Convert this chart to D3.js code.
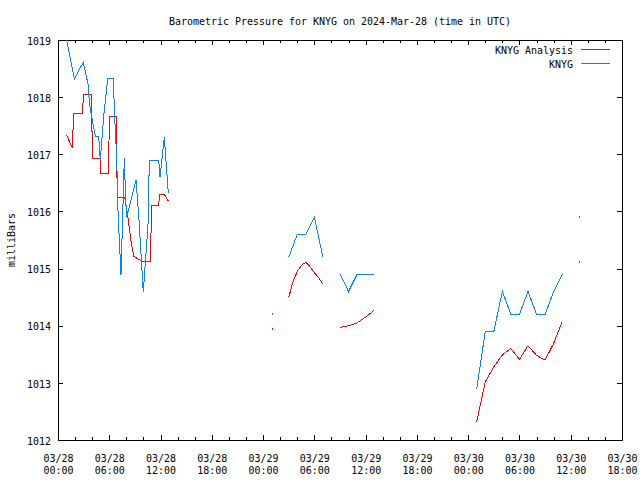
<!DOCTYPE html>
<html><head><meta charset="utf-8">
<script src="https://cdn.jsdelivr.net/npm/d3@7"></script>
<style>body{margin:0;background:#fff}svg{display:block}</style>
</head><body>
<script>
const chartTitle = "Barometric Pressure for KNYG on 2024-Mar-28 (time in UTC)";
const yAxisLabel = "milliBars";
const seriesNames = ["KNYG Analysis", "KNYG"];
const seriesColors = ["#ff0000", "#0a84f0"];
const yTicks = [1012, 1013, 1014, 1015, 1016, 1017, 1018, 1019];
const startTime = Date.UTC(2024, 2, 28, 0, 0);
const spanHours = 66;
// hours after 2024-03-28 00:00 UTC; null value = gap in the record
const knygHours = [1.0,1.91,2.96,3.51,3.69,3.86,4.37,4.76,4.95,5.35,5.82,6.47,6.63,6.87,7.02,7.37,7.76,7.92,8.04,9.13,9.48,9.98,10.57,10.68,11.78,11.94,12.44,12.91,
  19, 25, 26, 27,28,29,30,31, 32, 33,34,35,36,37, 43, 49,50,51,52,53,54,55,56,57,58,59, 60, 61];
const knygValues = [1019.0,1018.32,1018.61,1018.23,1017.88,1017.72,1017.32,1017.32,1016.9,1017.67,1018.32,1018.32,1017.65,1016.93,1016.02,1014.89,1016.93,1016.2,1015.9,1016.55,1015.85,1014.59,1015.85,1016.9,1016.9,1016.6,1017.3,1016.32,
  null, 1014.2, null, 1015.2,1015.6,1015.6,1015.9,1015.2, null, 1014.9,1014.6,1014.9,1014.9,1014.9, null,
  1012.9,1013.9,1013.9,1014.6,1014.2,1014.2,1014.6,1014.2,1014.2,1014.6,1014.9, null, 1015.9];
const analysisHours = [1.0,1.67,1.84,2.89,2.96,3.94,4.01,4.92,4.95,5.93,6.0,6.79,6.94,7.81,8.11,8.43,8.58,8.89,9.8,10.85,10.92,11.74,11.94,12.44,12.91,
  19, 25, 26, 27,27.5,28,28.5,29,29.5,30,30.5,31, 32, 33,34,35,36,37, 43, 49,50,51,52,53,54,55,56,57,58,59, 60, 61];
const analysisValues = [1017.34,1017.11,1017.72,1017.72,1018.04,1018.04,1016.93,1016.93,1016.67,1016.67,1017.67,1017.67,1016.25,1016.25,1015.97,1015.62,1015.44,1015.21,1015.13,1015.13,1016.11,1016.11,1016.3,1016.3,1016.18,
  null, 1013.95, null, 1014.5,1014.77,1014.95,1015.06,1015.11,1015.03,1014.93,1014.84,1014.73, null, 1013.97,1014.0,1014.05,1014.15,1014.27, null,
  1012.32,1013.02,1013.28,1013.49,1013.6,1013.41,1013.65,1013.48,1013.4,1013.69,1014.07, null, 1015.11];

const W = 640, H = 480;
const L = 58, R = 622, T = 40, B = 440;
const FONT = "'DejaVu Sans Mono', 'Liberation Mono', monospace";
const CW = 6; // character cell width

const hourMs = 3600000;
const toDate = h => new Date(startTime + h * hourMs);
const x = d3.scaleUtc().domain([toDate(0), toDate(spanHours)]).range([L, R]);
const y = d3.scaleLinear().domain([1012, 1019]).range([B, T]);

const svg = d3.select("body").append("svg").attr("width", W).attr("height", H)
  .style("font-family", FONT).style("font-size", "11px");

function fitText(sel) {
  sel.each(function() {
    const t = d3.select(this);
    const s = this.textContent;
    if (s.length) t.attr("textLength", s.length * CW).attr("lengthAdjust", "spacingAndGlyphs");
  });
}

// title
svg.append("text").attr("x", (L + R) / 2).attr("y", 25).attr("text-anchor", "middle")
  .attr("fill", "#000").text(chartTitle).call(fitText);

// y label
svg.append("text").attr("transform", "translate(15,240) rotate(-90)").attr("text-anchor", "middle")
  .attr("fill", "#000").text(yAxisLabel).call(fitText);

const majorX = d3.utcHour.every(6).range(toDate(0), toDate(spanHours + 0.01));
const minorX = d3.utcHour.every(2).range(toDate(0), toDate(spanHours + 0.01)).filter(d => d.getUTCHours() % 6 !== 0);

function styleAxis(g) {
  g.select(".domain").remove();
  g.selectAll("line").attr("stroke", "#000").attr("shape-rendering", "crispEdges");
}

// bottom axis
const gb = svg.append("g").attr("transform", `translate(0,${B})`)
  .call(d3.axisBottom(x).tickValues(majorX).tickSize(-5).tickSizeOuter(0).tickFormat(d3.utcFormat("%m/%d %H:%M")))
  .call(styleAxis);
gb.selectAll("text").each(function(d) {
  const t = d3.select(this);
  t.text(null).attr("y", null).attr("dy", null).attr("font-family", FONT).attr("font-size", "11px").attr("fill", "#000");
  t.append("tspan").attr("x", 0).attr("y", 21.5).text(d3.utcFormat("%m/%d")(d)).call(fitText);
  t.append("tspan").attr("x", 0).attr("y", 33.5).text(d3.utcFormat("%H:%M")(d)).call(fitText);
});
svg.append("g").attr("transform", `translate(0,${B})`)
  .call(d3.axisBottom(x).tickValues(minorX).tickSize(-3).tickSizeOuter(0).tickFormat(""))
  .call(styleAxis);
// top axis (mirror)
svg.append("g").attr("transform", `translate(0,${T})`)
  .call(d3.axisTop(x).tickValues(majorX).tickSize(-5).tickSizeOuter(0).tickFormat(""))
  .call(styleAxis);
svg.append("g").attr("transform", `translate(0,${T})`)
  .call(d3.axisTop(x).tickValues(minorX).tickSize(-3).tickSizeOuter(0).tickFormat(""))
  .call(styleAxis);
// left axis
const gl = svg.append("g").attr("transform", `translate(${L},0)`)
  .call(d3.axisLeft(y).tickValues(yTicks).tickSize(-5).tickSizeOuter(0).tickPadding(7).tickFormat(d3.format("d")))
  .call(styleAxis);
gl.selectAll("text").attr("font-family", FONT).attr("font-size", "11px").attr("fill", "#000").attr("dy", "0.38em").call(fitText);
// right axis (mirror)
svg.append("g").attr("transform", `translate(${R},0)`)
  .call(d3.axisRight(y).tickValues(yTicks).tickSize(-5).tickSizeOuter(0).tickFormat(""))
  .call(styleAxis);

// frame
svg.append("rect").attr("x", L + 0.5).attr("y", T + 0.5).attr("width", R - L).attr("height", B - T)
  .attr("fill", "none").attr("stroke", "#000").attr("shape-rendering", "crispEdges");

svg.append("clipPath").attr("id", "clip").append("rect").attr("x", L).attr("y", T).attr("width", R - L + 1).attr("height", B - T + 1);
const plot = svg.append("g").attr("clip-path", "url(#clip)");

function drawSeries(hours, values, color) {
  const pts = hours.map((h, i) => ({ t: toDate(h), v: values[i] }));
  const line = d3.line().defined(d => d.v !== null).x(d => x(d.t)).y(d => y(d.v));
  plot.append("path").datum(pts).attr("d", line).attr("fill", "none")
    .attr("stroke", color).attr("stroke-width", 1).attr("shape-rendering", "crispEdges");
  // isolated points
  const lone = pts.filter((d, i) => d.v !== null && (i === 0 || pts[i - 1].v === null) && (i === pts.length - 1 || pts[i + 1].v === null));
  plot.selectAll(null).data(lone).enter().append("rect")
    .attr("x", d => Math.round(x(d.t))).attr("y", d => Math.round(y(d.v)) - 1)
    .attr("width", 1).attr("height", 2).attr("fill", color).attr("shape-rendering", "crispEdges");
}
drawSeries(analysisHours, analysisValues, seriesColors[0]);
drawSeries(knygHours, knygValues, seriesColors[1]);

// legend
const legend = svg.append("g");
seriesNames.forEach((name, i) => {
  const by = 54 + i * 14;
  legend.append("text").attr("x", 573).attr("y", by).attr("text-anchor", "end").attr("fill", "#000").text(name).call(fitText);
  legend.append("rect").attr("x", 581).attr("y", by - 5).attr("width", 29).attr("height", 1)
    .attr("fill", seriesColors[i]).attr("shape-rendering", "crispEdges");
});
</script>
</body></html>
